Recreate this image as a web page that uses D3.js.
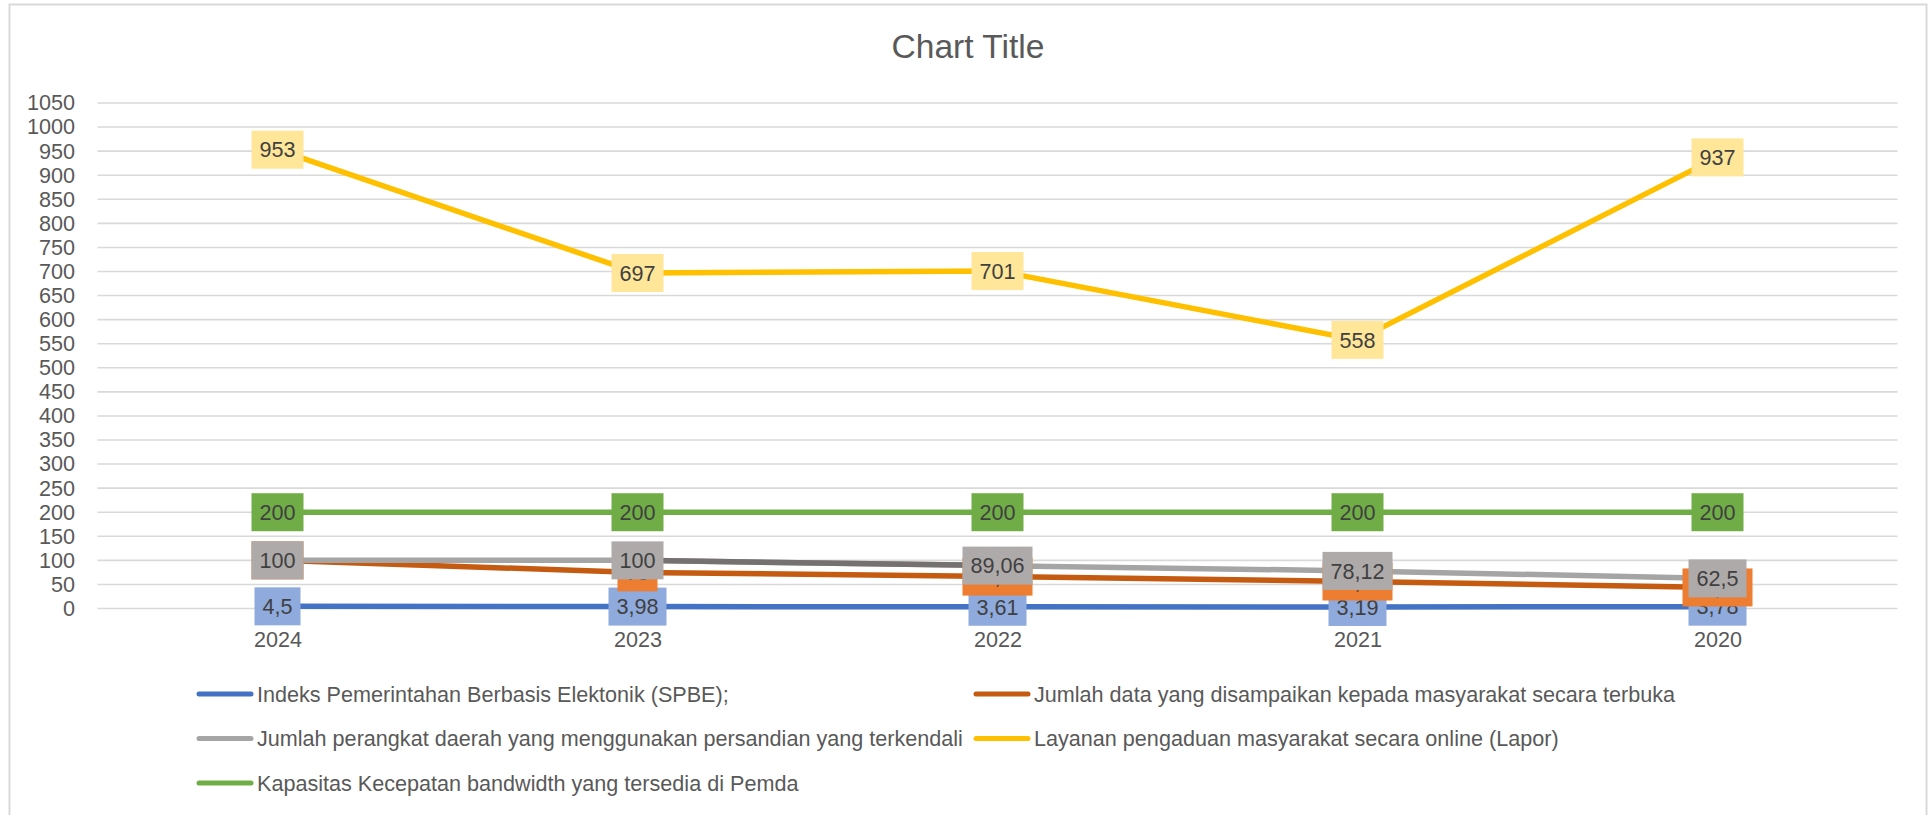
<!DOCTYPE html>
<html>
<head>
<meta charset="utf-8">
<script src="https://cdn.jsdelivr.net/npm/d3@7"></script>
<style>
  html, body { margin: 0; padding: 0; background: #fff; }
  svg { display: block; }
  text { font-family: "Liberation Sans", Arial, sans-serif; }
</style>
</head>
<body>
<svg id="chart" width="1930" height="815"></svg>
<script>
// ---- data ----
const categories = ["2024", "2023", "2022", "2021", "2020"];
const spbe = [4.5, 3.98, 3.61, 3.19, 3.78];
const dataTerbuka = [100, 75, 66.25, 56.12, 43.75];
const persandian = [100, 100, 89.06, 78.12, 62.5];
const lapor = [953, 697, 701, 558, 937];
const bandwidth = [200, 200, 200, 200, 200];
const seriesNames = [
  "Indeks Pemerintahan Berbasis Elektonik (SPBE);",
  "Jumlah data yang disampaikan kepada masyarakat secara terbuka",
  "Jumlah perangkat daerah yang menggunakan persandian yang terkendali",
  "Layanan pengaduan masyarakat secara online (Lapor)",
  "Kapasitas Kecepatan bandwidth yang tersedia di Pemda"
];
const yTickValues = [0,50,100,150,200,250,300,350,400,450,500,550,600,650,700,750,800,850,900,950,1000,1050];
const chartTitle = "Chart Title";

const series = [
  { name: seriesNames[0], values: spbe,        line: "#4472C4", fill: "#8FAADC" },
  { name: seriesNames[1], values: dataTerbuka, line: "#C55A11", fill: "#ED7D31" },
  { name: seriesNames[2], values: persandian,  line: "#A5A5A5", fill: "#AEAAAA" },
  { name: seriesNames[3], values: lapor,       line: "#FFC000", fill: "#FFE699" },
  { name: seriesNames[4], values: bandwidth,   line: "#70AD47", fill: "#70AD47" }
];

// ---- layout ----
const svg = d3.select("#chart");
const plot = { left: 97.5, right: 1897.5, top: 103, bottom: 608.5 };
const fontSize = 21.6;

const x = d3.scalePoint().domain(categories).range([plot.left, plot.right]).padding(0.5);
const y = d3.scaleLinear().domain([0, 1050]).range([plot.bottom, plot.top]);

// border
svg.append("rect")
  .attr("x", 9.5).attr("y", 4.5).attr("width", 1917).attr("height", 840)
  .attr("fill", "#fff").attr("stroke", "#D9D9D9").attr("stroke-width", 2);

// title
svg.append("text")
  .attr("x", 968).attr("y", 58)
  .attr("text-anchor", "middle")
  .attr("font-size", 33.6)
  .attr("fill", "#595959")
  .text(chartTitle);

// gridlines
svg.append("g").selectAll("line").data(yTickValues).join("line")
  .attr("x1", plot.left).attr("x2", plot.right)
  .attr("y1", d => y(d)).attr("y2", d => y(d))
  .attr("stroke", "#D9D9D9").attr("stroke-width", 1.6);

// y axis
const yAxis = svg.append("g")
  .attr("transform", `translate(${plot.left},0)`)
  .call(d3.axisLeft(y).tickValues(yTickValues).tickFormat(d3.format("d")).tickSize(0).tickPadding(22.5));
yAxis.select(".domain").remove();
yAxis.selectAll("text").attr("font-size", fontSize).attr("fill", "#595959")
  .attr("font-family", '"Liberation Sans", Arial, sans-serif');

// x axis
const xAxis = svg.append("g")
  .attr("transform", `translate(0,${plot.bottom})`)
  .call(d3.axisBottom(x).tickSize(0).tickPadding(23));
xAxis.select(".domain").remove();
xAxis.selectAll("text").attr("font-size", fontSize).attr("fill", "#595959")
  .attr("font-family", '"Liberation Sans", Arial, sans-serif');

// lines
const lineGen = d3.line().x((d, i) => x(categories[i])).y(d => y(d));
const linesG = svg.append("g");
series.forEach(s => {
  linesG.append("path")
    .attr("d", lineGen(s.values))
    .attr("fill", "none")
    .attr("stroke", s.line)
    .attr("stroke-width", 5.5)
    .attr("stroke-linejoin", "round")
    .attr("stroke-linecap", "round");
});
// darker segment of persandian line (2023 -> 2022)
linesG.append("path")
  .attr("d", d3.line().x(d => x(d[0])).y(d => y(d[1]))([[categories[1], persandian[1]], [categories[2], persandian[2]]]))
  .attr("fill", "none").attr("stroke", "#767171").attr("stroke-width", 5.5);

// data labels
const fmt = v => String(v).replace(".", ",");
const labelsG = svg.append("g");
series.forEach(s => {
  s.values.forEach((v, i) => {
    const g = labelsG.append("g").attr("transform", `translate(${x(categories[i])},${y(v)})`);
    const t = g.append("text")
      .attr("text-anchor", "middle")
      .attr("dy", "0.36em")
      .attr("font-size", fontSize)
      .attr("fill", "#404040")
      .text(fmt(v));
    const w = Math.round(t.node().getComputedTextLength() + 16);
    g.insert("rect", "text")
      .attr("x", -w / 2).attr("y", -19).attr("width", w).attr("height", 38)
      .attr("fill", s.fill);
  });
});

// legend
const legendPos = [
  { lx: 197, ly: 694 }, { lx: 974, ly: 694 },
  { lx: 197, ly: 738.5 }, { lx: 974, ly: 738.5 },
  { lx: 197, ly: 783 }
];
const legendG = svg.append("g");
series.forEach((s, i) => {
  const p = legendPos[i];
  legendG.append("line")
    .attr("x1", p.lx + 2).attr("x2", p.lx + 54)
    .attr("y1", p.ly).attr("y2", p.ly)
    .attr("stroke", s.line).attr("stroke-width", 5).attr("stroke-linecap", "round");
  legendG.append("text")
    .attr("x", p.lx + 60).attr("y", p.ly)
    .attr("dy", "0.36em")
    .attr("font-size", fontSize)
    .attr("fill", "#595959")
    .text(s.name);
});
</script>
</body>
</html>
